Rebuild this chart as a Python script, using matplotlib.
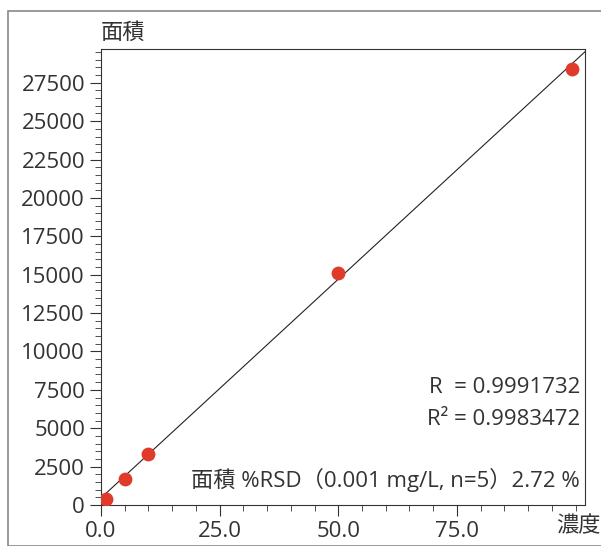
import numpy as np
import matplotlib
matplotlib.use("Agg")
import matplotlib.pyplot as plt
from matplotlib.ticker import MultipleLocator
from matplotlib.patches import Rectangle

plt.rcParams["font.family"] = ["Open Sans", "Noto Sans CJK JP", "DejaVu Sans"]

conc = [1.0, 5.0, 10.0, 50.0, 99.3]
area = [400, 1700, 3300, 15100, 28400]
fit_x = [0.0, 102.0]

fig = plt.figure(figsize=(6.01, 5.46), dpi=100)
fig.patches.append(Rectangle((8 / 601, 0), 600 / 601, 535 / 546, transform=fig.transFigure,
                             fill=False, edgecolor="#888888", lw=1.2))
ax = fig.add_axes([101 / 601, 41 / 546, 484 / 601, 456 / 546])

slope, icpt = np.polyfit(conc, area, 1)
xs = np.array(fit_x)
ax.plot(xs, slope * xs + icpt + 100, color="#222222", lw=0.8)
ax.scatter(conc, area, s=80, color="#e03a2a", zorder=3)

ax.set_xlim(0, 102)
ax.set_ylim(0, 29700)
ax.set_xticks([0, 25, 50, 75])
ax.set_xticklabels(["0.0", "25.0", "50.0", "75.0"])
ax.xaxis.set_minor_locator(MultipleLocator(5))
ax.set_yticks(np.arange(0, 27501, 2500))
ax.yaxis.set_minor_locator(MultipleLocator(500))
ax.tick_params(which="both", direction="out", colors="#333333", labelsize=16)
ax.tick_params(which="major", length=8)
ax.tick_params(which="minor", length=4)
for s in ax.spines.values():
    s.set_color("#333333")

fig.text(101 / 601, 1 - 33 / 546, "面積", fontsize=16, ha="left", va="center", color="#333333")
fig.text(578 / 601, 1 - 527 / 546, "濃度", fontsize=16, ha="center", va="center", color="#333333")
ax.text(0.99, 0.245, "R  = 0.9991732", transform=ax.transAxes, ha="right", fontsize=16, color="#333333")
ax.text(0.99, 0.175, "R\u00b2 = 0.9983472", transform=ax.transAxes, ha="right", fontsize=16, color="#333333")
ax.text(0.99, 0.04, "面積 %RSD（0.001 mg/L, n=5）2.72 %", transform=ax.transAxes, ha="right",
        fontsize=16, color="#333333")

fig.savefig("out.png", dpi=100)
